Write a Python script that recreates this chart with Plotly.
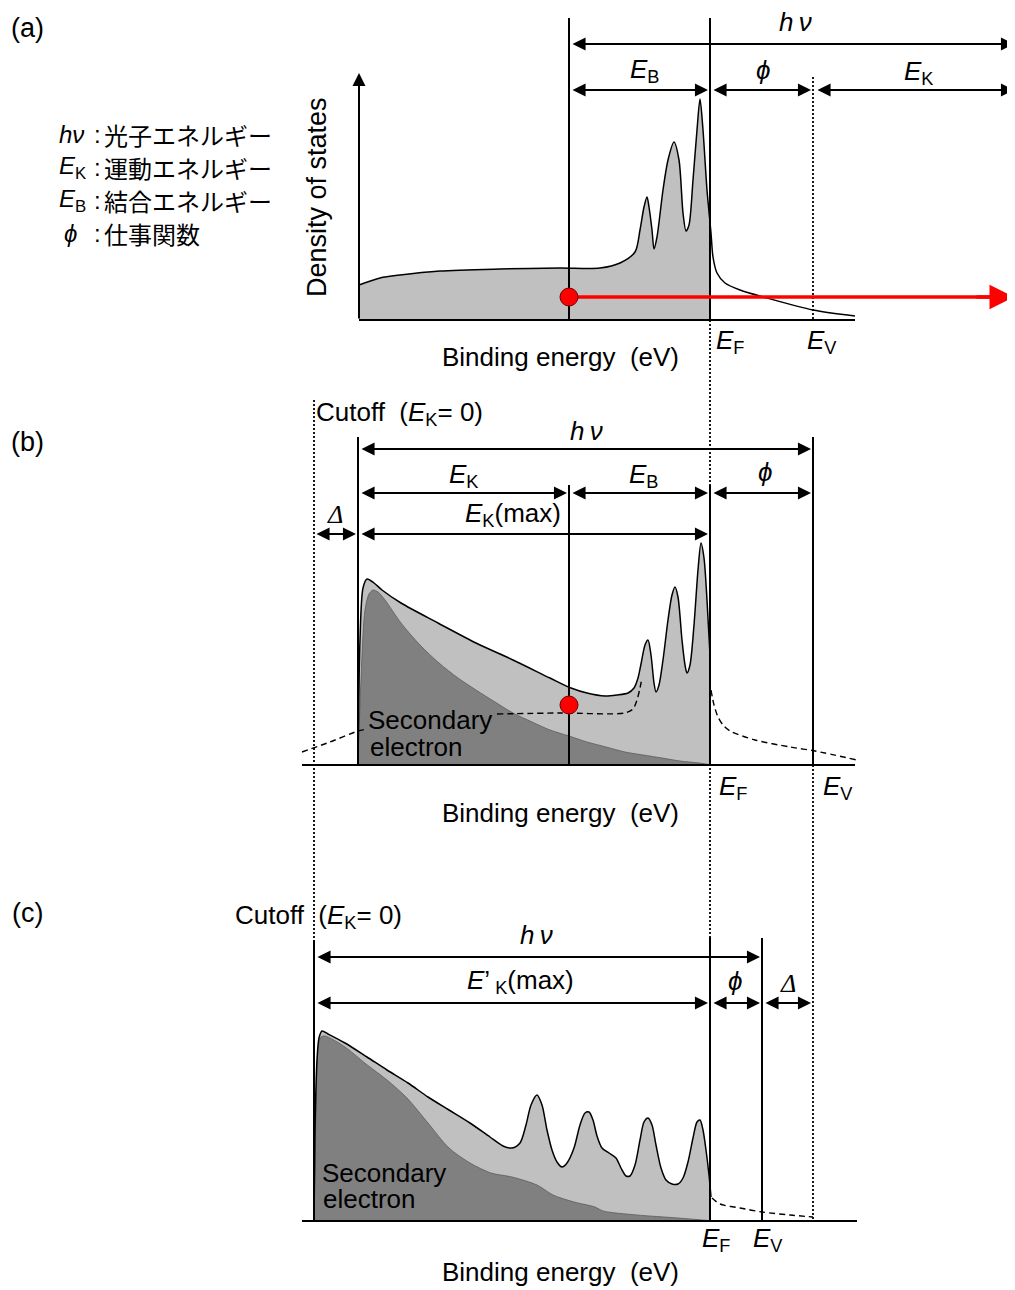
import plotly.graph_objects as go

# ---------------- data (binding-energy axis in arbitrary units, intensities above each baseline) ----------------
# energy levels on the common horizontal axis
LEVEL_CUTOFF = 314
LEVEL_ONSET_B = 358
LEVEL_AXIS_A = 359
LEVEL_ELECTRON = 569
LEVEL_EF = 710
LEVEL_EV_C = 762
LEVEL_EV = 813
LEVEL_RIGHT = 1014

# baselines of the three panels (vertical axis, reversed)
BASE_A, BASE_B, BASE_C = 320, 765, 1221

# (a) density of states
a_x = [359, 380, 400, 440, 500, 560, 600, 620, 635, 640, 644, 647, 649, 652, 654, 657, 663, 668, 674, 679,
       683, 686, 689, 693, 697, 700, 703, 707, 711, 713, 717, 725, 740, 767, 813, 855]
a_h = [35, 42, 45, 49, 51, 52, 52, 57, 68, 90, 113, 123, 113, 90, 71, 83, 130, 160, 178, 160,
       107, 89, 95, 140, 190, 221, 190, 130, 87, 63, 47, 37, 30, 22, 10, 4]

# (b) spectrum: total, secondary electrons, dashed DOS guide
b_out_x = [358, 360, 363, 367, 374, 382, 401, 438, 476, 513, 550, 571, 587, 605, 617, 628, 634, 638, 641, 645,
           648, 651, 654, 656, 659, 663, 668, 672, 675, 678, 682, 685, 687, 690, 694, 698, 701, 704, 707, 710]
b_out_h = [0, 125, 177, 186, 182, 175, 162, 142, 122, 105, 87, 77, 72, 69, 70, 72, 77, 87, 101, 120,
           125, 110, 82, 73, 80, 105, 145, 170, 178, 168, 125, 100, 92, 100, 140, 195, 222, 207, 165, 110]
b_in_x = [358, 361, 365, 369, 373, 378, 385, 401, 420, 439, 458, 476, 495, 513, 532, 550, 569, 587, 606, 625,
          643, 662, 680, 699, 712]
b_in_h = [0, 85, 155, 171, 175, 173, 165, 142, 120, 102, 87, 75, 63, 52, 43, 35, 29, 23, 18, 13,
          10, 7, 4, 2, 0]
b_dash_x = [302, 330, 358, 367, None, 497, 560, 625, 633, 637, 640, 642]
b_dash_h = [13, 23, 34, 36, None, 51, 52, 52, 56, 65, 77, 87]
b_tail_x = [711, 714, 718, 723, 730, 755, 790, 815, 857]
b_tail_h = [75, 60, 48, 40, 34, 25, 18, 14, 5]

# (c) spectrum
c_out_x = [314, 315, 317, 319, 322, 328, 345, 367, 387, 408, 428, 449, 470, 490, 503, 512, 520, 526, 531, 537,
           542, 547, 552, 557, 562, 567, 574, 580, 585, 589, 593, 597, 602, 609, 616, 621, 626, 630, 635, 640,
           644, 648, 652, 656, 661, 666, 672, 678, 683, 688, 693, 697, 700, 703, 706, 709, 711]
c_out_h = [0, 91, 161, 183, 190, 187, 178, 164, 151, 138, 124, 111, 98, 84, 75, 73, 78, 96, 116, 126,
           116, 91, 71, 59, 54, 58, 73, 96, 108, 109, 101, 85, 73, 68, 63, 53, 45, 45, 56, 81,
           99, 103, 96, 76, 53, 41, 37, 37, 43, 59, 83, 99, 101, 91, 71, 46, 24]
c_in_x = [314, 316, 318, 321, 325, 345, 366, 387, 407, 428, 449, 470, 491, 512, 537, 553, 574, 595, 603, 637, 678, 714]
c_in_h = [0, 111, 171, 184, 185, 174, 157, 141, 123, 98, 73, 58, 48, 44, 36, 26, 19, 14, 10, 6, 3, 0]
c_tail_x = [712, 720, 740, 762, 790, 813]
c_tail_h = [23, 17, 13, 9, 6, 4]

# photoelectron (red dots) heights
a_dot_h = 23
b_dot_h = 60

legend_symbols = ["<i>hν</i>", "<i>E</i><sub>K</sub>", "<i>E</i><sub>B</sub>", "<i>ϕ</i>"]
legend_terms = ["光子エネルギー", "運動エネルギー", "結合エネルギー", "仕事関数"]

# ---------------- styles ----------------
FONT = "Liberation Sans, Arial, Noto Sans CJK JP, sans-serif"
JP = "Noto Sans CJK JP, Liberation Sans, sans-serif"
LIGHT = "#c0c0c0"
DARK = "#808080"
TXT = 26
PAGE_OFFSET = 8  # default body margin of the html page

fig = go.Figure()


def y_of(base, hs):
    return [None if h is None else base - h for h in hs]


def line(xs, ys, color="black", width=2.0, dash=None, shape="linear", smoothing=0.8):
    fig.add_trace(go.Scatter(x=xs, y=ys, mode="lines", connectgaps=False,
                             line=dict(color=color, width=width, dash=dash, shape=shape, smoothing=smoothing),
                             hoverinfo="skip", showlegend=False))


def area(xs, hs, base, color, xmax=None):
    pts = [(x, h) for x, h in zip(xs, hs) if xmax is None or x <= xmax]
    px = [p[0] for p in pts]
    ph = [p[1] for p in pts]
    fig.add_trace(go.Scatter(x=[px[0], px[-1]], y=[base, base], mode="lines", line=dict(width=0),
                             hoverinfo="skip", showlegend=False))
    fig.add_trace(go.Scatter(x=px, y=y_of(base, ph), mode="lines", fill="tonexty", fillcolor=color,
                             line=dict(width=0, shape="spline", smoothing=0.8),
                             hoverinfo="skip", showlegend=False))


ann = []


def text(x, y, s, size=TXT, xanchor="center", family=FONT, angle=0):
    ann.append(dict(x=x, y=y, xref="x", yref="y", text=s, showarrow=False, xanchor=xanchor,
                    yanchor="middle", textangle=angle, font=dict(family=family, size=size, color="black")))


def darrow(x0, x1, y, color="black", width=1.8, size=1.45):
    ann.append(dict(x=x1, y=y, ax=x0, ay=y, xref="x", yref="y", axref="x", ayref="y", text="",
                    showarrow=True, arrowhead=2, startarrowhead=2, arrowside="end+start",
                    arrowsize=size, startarrowsize=size, arrowwidth=width, arrowcolor=color,
                    standoff=0, startstandoff=0))


def arrow(x0, y0, x1, y1, color="black", width=2, size=1.3):
    ann.append(dict(x=x1, y=y1, ax=x0, ay=y0, xref="x", yref="y", axref="x", ayref="y", text="",
                    showarrow=True, arrowhead=2, arrowsize=size, arrowwidth=width, arrowcolor=color,
                    standoff=0))


DOT = "2px,2px"
DASH = "6px,4px"

# ---------------- fills ----------------
area(a_x, a_h, BASE_A, LIGHT, xmax=LEVEL_EF + 1)
area(b_out_x, b_out_h, BASE_B, LIGHT)
area(b_in_x, b_in_h, BASE_B, DARK)
area(c_out_x, c_out_h, BASE_C, LIGHT)
area(c_in_x, c_in_h, BASE_C, DARK)

# inner (secondary electron) edges
line(b_in_x, y_of(BASE_B, b_in_h), color="#5a5a5a", width=0.8, shape="spline")
line(c_in_x, y_of(BASE_C, c_in_h), color="#5a5a5a", width=0.8, shape="spline")

# outlines
line(a_x, y_of(BASE_A, a_h), width=1.5, shape="spline")
line(b_out_x, y_of(BASE_B, b_out_h), width=1.5, shape="spline")
line(c_out_x, y_of(BASE_C, c_out_h), width=1.5, shape="spline")

# dashed guides
line(b_dash_x, y_of(BASE_B, b_dash_h), width=1.4, dash=DASH, shape="spline")
line(b_tail_x, y_of(BASE_B, b_tail_h), width=1.4, dash=DASH, shape="spline")
line(c_tail_x, y_of(BASE_C, c_tail_h), width=1.4, dash=DASH, shape="spline")

# dotted long verticals
line([LEVEL_EF, LEVEL_EF], [BASE_A, BASE_C], width=1.8, dash=DOT)
line([LEVEL_EV, LEVEL_EV], [77, BASE_A], width=1.8, dash=DOT)
line([LEVEL_EV, LEVEL_EV], [BASE_B, BASE_C], width=1.8, dash=DOT)
line([LEVEL_CUTOFF, LEVEL_CUTOFF], [400, BASE_C], width=1.8, dash=DOT)

# solid verticals
line([LEVEL_ELECTRON, LEVEL_ELECTRON], [18, BASE_A])
line([LEVEL_EF, LEVEL_EF], [18, BASE_A])
line([LEVEL_ONSET_B, LEVEL_ONSET_B], [437, BASE_B])
line([LEVEL_ELECTRON, LEVEL_ELECTRON], [485, BASE_B])
line([LEVEL_EF, LEVEL_EF], [485, BASE_B])
line([LEVEL_EV, LEVEL_EV], [437, BASE_B])
line([LEVEL_CUTOFF, LEVEL_CUTOFF], [940, BASE_C])
line([LEVEL_EF, LEVEL_EF], [937, BASE_C])
line([LEVEL_EV_C, LEVEL_EV_C], [938, BASE_C])

# baselines
line([LEVEL_AXIS_A, 855], [BASE_A, BASE_A])
line([302, 855], [BASE_B, BASE_B])
line([302, 857], [BASE_C, BASE_C])

# red photoelectron path (a)
line([LEVEL_ELECTRON + 8, 995], [BASE_A - a_dot_h] * 2, color="#ff0000", width=3.5)
fig.add_trace(go.Scatter(x=[LEVEL_ELECTRON, LEVEL_ELECTRON], y=[BASE_A - a_dot_h, BASE_B - b_dot_h],
                         mode="markers", marker=dict(size=18, color="#ff0000", line=dict(color="#700000", width=1)),
                         hoverinfo="skip", showlegend=False))
ann.append(dict(x=LEVEL_RIGHT, y=BASE_A - a_dot_h, ax=975, ay=BASE_A - a_dot_h, xref="x", yref="y",
                axref="x", ayref="y", text="", showarrow=True, arrowhead=2, arrowsize=1.4,
                arrowwidth=3.5, arrowcolor="#ff0000", standoff=0))

# DOS axis arrow (a)
arrow(LEVEL_AXIS_A, BASE_A, LEVEL_AXIS_A, 73, width=2, size=1.3)

# ---------------- dimension arrows ----------------
# (a)
darrow(LEVEL_ELECTRON + 2, LEVEL_RIGHT, 44)
darrow(LEVEL_ELECTRON + 2, LEVEL_EF - 2, 90)
darrow(LEVEL_EF + 2, LEVEL_EV - 2, 90)
darrow(LEVEL_EV + 3, LEVEL_RIGHT, 90)
# (b)
darrow(LEVEL_ONSET_B + 2, LEVEL_EV - 2, 449)
darrow(LEVEL_ONSET_B + 2, LEVEL_ELECTRON - 2, 493)
darrow(LEVEL_ELECTRON + 2, LEVEL_EF - 2, 493)
darrow(LEVEL_EF + 2, LEVEL_EV - 2, 493)
darrow(LEVEL_CUTOFF + 1, LEVEL_ONSET_B - 2, 534)
darrow(LEVEL_ONSET_B + 2, LEVEL_EF - 2, 534)
# (c)
darrow(LEVEL_CUTOFF + 2, LEVEL_EV_C - 2, 957)
darrow(LEVEL_CUTOFF + 2, LEVEL_EF - 2, 1003)
darrow(LEVEL_EF + 2, LEVEL_EV_C - 2, 1003)
darrow(LEVEL_EV_C + 2, LEVEL_EV - 2, 1003)

# ---------------- texts ----------------
PHI = "<i>ϕ</i>"
DELTA = '<span style="font-family:Liberation Serif, serif"><i>Δ</i></span>'
EK = "<i>E</i><sub>K</sub>"
EB = "<i>E</i><sub>B</sub>"
EF = "<i>E</i><sub>F</sub>"
EV = "<i>E</i><sub>V</sub>"
HNU = "<i>h\u2009ν</i>"
BE = "Binding energy\u00a0\u00a0(eV)"
CUT = "Cutoff\u00a0\u00a0(" + EK + "= 0)"

# panel labels
text(27, 28, "(a)", size=27)
text(27, 442, "(b)", size=27)
text(27, 913, "(c)", size=27)

# legend
for i, (sym, term) in enumerate(zip(legend_symbols, legend_terms)):
    yy = 134 + 33 * i
    text(57 if i < 3 else 62, yy, sym, size=24, xanchor="left")
    text(97, yy, ":", size=24)
    text(102, yy, term, size=24, xanchor="left", family=JP)

# (a)
text(317, 197, "Density of states", angle=-90, size=27)
text(795, 22, HNU)
text(644, 70, EB)
text(763, 70, PHI)
text(918, 72, EK)
text(730, 341, EF)
text(822, 341, EV)
text(560, 357, BE)

# (b)
text(314, 413, CUT, xanchor="left")
text(586, 431, HNU)
text(463, 475, EK)
text(643, 475, EB)
text(765, 472, PHI)
text(335, 514, DELTA)
text(513, 514, EK + "(max)")
text(366, 720, "Secondary", xanchor="left")
text(368, 747, "electron", xanchor="left")
text(733, 787, EF)
text(838, 787, EV)
text(560, 813, BE)

# (c)
text(233, 916, CUT, xanchor="left")
text(536, 935, HNU)
text(520, 981, "<i>E</i>’<sub> K</sub>(max)")
text(735, 981, PHI)
text(788, 983, DELTA)
text(320, 1173, "Secondary", xanchor="left")
text(321, 1199, "electron", xanchor="left")
text(716, 1239, EF)
text(768, 1239, EV)
text(560, 1272, BE)

fig.update_layout(
    width=1015 - PAGE_OFFSET, height=1290 - PAGE_OFFSET, autosize=False,
    margin=dict(l=0, r=0, t=0, b=0, pad=0),
    paper_bgcolor="white", plot_bgcolor="white",
    xaxis=dict(range=[PAGE_OFFSET, 1015], visible=False, fixedrange=True),
    yaxis=dict(range=[1290, PAGE_OFFSET], visible=False, fixedrange=True),
    annotations=ann,
    showlegend=False,
)

fig.write_html("out.html", config={"displayModeBar": False, "staticPlot": True})
